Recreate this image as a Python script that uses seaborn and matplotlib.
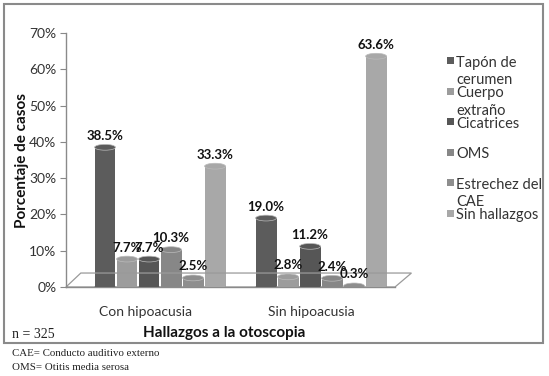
import pandas as pd
import seaborn as sns
import matplotlib.pyplot as plt
from matplotlib.patches import Rectangle, Ellipse, Polygon

# Datos
grupos = ['Con hipoacusia', 'Sin hipoacusia']
hallazgos = ['Tapón de cerumen', 'Cuerpo extraño', 'Cicatrices', 'OMS',
             'Estrechez del CAE', 'Sin hallazgos']
leyenda = ['Tapón de\ncerumen', 'Cuerpo\nextraño', 'Cicatrices', 'OMS',
           'Estrechez del\nCAE', 'Sin hallazgos']
con_hipoacusia = [38.5, 7.7, 7.7, 10.3, 2.5, 33.3]
sin_hipoacusia = [19.0, 2.8, 11.2, 2.4, 0.3, 63.6]
colores = ['#5c5c5c', '#9c9c9c', '#565656', '#878787', '#8e8e8e', '#a8a8a8']
yticks = [0, 10, 20, 30, 40, 50, 60, 70]


def main():
    df = pd.DataFrame({
        'grupo': [grupos[0]] * 6 + [grupos[1]] * 6,
        'hallazgo': hallazgos * 2,
        'valor': con_hipoacusia + sin_hipoacusia,
    })

    sns.set_style('white')
    plt.rcParams['font.family'] = ['Lato', 'DejaVu Sans']

    fig = plt.figure(figsize=(5.49, 3.76), dpi=100)
    ax = fig.add_axes([66 / 549, 89 / 376, 329 / 549, 254 / 376])

    sns.barplot(data=df, x='grupo', y='valor', hue='hallazgo', hue_order=hallazgos,
                palette=colores, width=0.82, gap=0.05, saturation=1,
                legend=False, ax=ax, linewidth=0)

    # tapas de cilindro sobre cada barra
    for bar in ax.patches:
        x, w, h = bar.get_x(), bar.get_width(), bar.get_height()
        c = bar.get_facecolor()
        ax.add_patch(Ellipse((x + w / 2, h), w, 1.6, facecolor=c, edgecolor='#bbbbbb',
                             linewidth=0.5, zorder=3))
        ax.add_patch(Ellipse((x + w / 2, 0), w, 1.6, facecolor=c, linewidth=0, zorder=3))

    for cont in ax.containers:
        ax.bar_label(cont, fmt='%.1f%%', padding=4, fontsize=9.5, fontweight='bold',
                     color='#111111', zorder=5)

    ax.set_ylim(0, 70)
    ax.set_xlim(-0.584, 1.459)
    ax.set_yticks(yticks, [f'{t}%' for t in yticks])
    ax.set_xticks([-0.093, 0.938], grupos)
    ax.set_xticks([-0.584, 0.429, 1.459], minor=True)
    ax.tick_params(axis='x', which='major', length=0, pad=14, labelsize=10, labelcolor='#333333')
    ax.tick_params(axis='x', which='minor', length=5, direction='out', color='#888888')
    ax.tick_params(axis='y', length=4, direction='out', color='#888888', left=True,
                   labelsize=10, labelcolor='#333333', pad=3)

    for s in ['top', 'right']:
        ax.spines[s].set_visible(False)
    for s in ['left', 'bottom']:
        ax.spines[s].set_color('#8a8a8a')
        ax.spines[s].set_linewidth(1.0)

    # piso en perspectiva
    piso = Polygon([(0, 0), (1, 0), (1.05, 0.055), (0.045, 0.055)], closed=True,
                   transform=ax.transAxes, facecolor='none', edgecolor='#9a9a9a',
                   linewidth=0.9, clip_on=False, zorder=1)
    ax.add_patch(piso)

    ax.set_ylabel('Porcentaje de casos', fontsize=11, fontweight='bold', color='#111111')
    ax.yaxis.set_label_coords(-0.112, 0.5)
    ax.set_xlabel('Hallazgos a la otoscopia', fontsize=11, fontweight='bold', color='#111111')
    ax.xaxis.set_label_coords(0.48, -0.155)

    # leyenda manual (alineada arriba como en el original)
    y0 = 63
    for i, (lab, col) in enumerate(zip(leyenda, colores)):
        y = y0 + i * 30.5
        fig.patches.append(Rectangle((447 / 549, 1 - (y + 1) / 376), 7 / 549, 7 / 376,
                                     transform=fig.transFigure, facecolor=col,
                                     edgecolor='none'))
        fig.text(456 / 549, 1 - (y - 7) / 376, lab, fontsize=10.5, color='#333333',
                 va='top', ha='left', linespacing=1.3)

    # marco
    fig.patches.append(Rectangle((4 / 549, 1 - 343 / 376), 539 / 549, 339 / 376,
                                 transform=fig.transFigure, facecolor='none',
                                 edgecolor='#8a8a8a', linewidth=1.5))

    serif = ['Liberation Serif', 'DejaVu Serif']
    fig.text(12 / 549, 1 - 335 / 376, 'n = 325', fontsize=10, family=serif,
             va='center', color='#222222')
    fig.text(12 / 549, 1 - 354 / 376, 'CAE= Conducto auditivo externo', fontsize=7.8,
             family=serif, va='center', color='#222222')
    fig.text(12 / 549, 1 - 367 / 376, 'OMS= Otitis media serosa', fontsize=7.8,
             family=serif, va='center', color='#222222')

    fig.savefig('out.png', dpi=100)


if __name__ == '__main__':
    main()
